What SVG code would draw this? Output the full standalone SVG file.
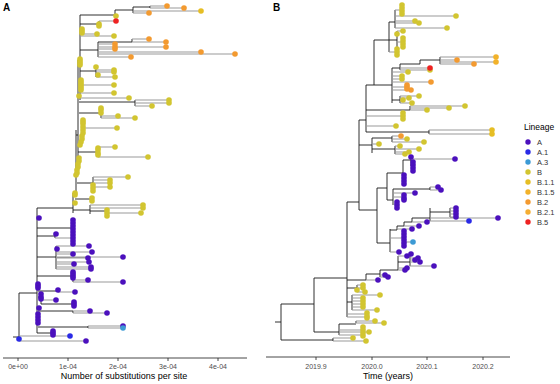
<svg xmlns="http://www.w3.org/2000/svg" width="560" height="384" viewBox="0 0 560 384">
<style>
.in{fill:none;stroke:#1a1a1a;stroke-width:0.9}
.tp{fill:none;stroke:#999;stroke-width:1.2}
.ax{fill:none;stroke:#333;stroke-width:0.9}
#tipsA circle,#tipsB circle{r:2.8px}
.lbl{font-family:"Liberation Sans",Arial,sans-serif;font-weight:bold;font-size:10px;fill:#000}
.tk{font-family:"Liberation Sans",Arial,sans-serif;font-size:7px;fill:#4d4d4d;text-anchor:middle}
.ttl{font-family:"Liberation Sans",Arial,sans-serif;font-size:9px;fill:#000;text-anchor:middle}
.lg{font-family:"Liberation Sans",Arial,sans-serif;font-size:7.5px;fill:#333}
.lgt{font-family:"Liberation Sans",Arial,sans-serif;font-size:8.5px;fill:#000}
.A{fill:#4B10BD}.A1{fill:#2A2AE6}.A3{fill:#3C9AD5}.B{fill:#D2C530}.B11{fill:#E6BE24}.B15{fill:#F2B22A}.B2{fill:#F39A30}.B21{fill:#F5AE33}.B5{fill:#EE2222}
</style>

<g id="panelA">
<text class="lbl" x="3" y="11">A</text>
<g id="connectorsA">
<path class="in" d="M13 337H19M19 293V341M19 293H37M37 208V333M37 208H73M73 193V213M73 195H76M76 130V195M76 135H78M78 60V175M78 95H80M80 15V100
M80 15H115M115 10V16M115 10H133M133 7V13M133 7H150M150 6V8
M80 24H99M99 21V26
M80 50H98M98 42V57M98 42H132M132 39V42
M80 71H96M96 67V77
M79 102H135M135 100V106
M79 113H101M101 108V118
M78 152H98M98 147V157
M77 183H93M93 177V191
M75 199H92M92 198V201
M73 210H90M90 205V214M90 211H107M107 211V213
M37 228H73M73 220V245
M37 236H55M55 234V238
M37 257H56M56 246V269
M37 276H73M73 272V282
M38 291H58M58 290V292
M38 297H41M41 294V304M41 304H74M74 302V306
M38 311H73M73 311V313
M38 327H88M88 326V328
M37 333H53"/>
<path class="tp" d="M150 6H167M150 8H184M133 13H149M133 11H201M115 16H116
M99 21H116M80 34H97M80 36H114
M132 39H149M132 42H166M98 44H115M98 47H166M98 49H115M98 52H201M98 54H235M98 57H131
M96 70H114M96 72H114M96 75H98M96 77H115
M80 85H114M80 93H114M79 98H129
M135 100H169M135 103H169M135 106H152
M101 116H118M101 118H135M83 128H117
M98 147H115M98 157H148
M93 177H128M93 180H110M93 183H110M93 187H110
M90 205H143M90 208H143M107 213H141
M55 238H72
M56 246H89M56 252H92M56 254H73M56 257H123M56 258H88M56 262H89M56 264H74M56 267H91M56 269H91
M73 280H88M73 282H123M58 292H75M41 300H56
M73 311H90M73 313H107
M88 326H123M88 328H123
M19 336H70M19 341H86"/>
</g>
<g id="tipsA">
<g class="B2"><circle cx="167" cy="6" r="3"/><circle cx="184" cy="8" r="3"/><circle cx="149" cy="13" r="3"/><circle cx="149" cy="39" r="3"/><circle cx="166" cy="42" r="3"/><circle cx="115" cy="44" r="3"/><circle cx="115" cy="47" r="3"/><circle cx="166" cy="47" r="3"/><circle cx="115" cy="49" r="3"/><circle cx="201" cy="52" r="3"/><circle cx="235" cy="54" r="3"/><circle cx="131" cy="57" r="3"/></g>
<g class="B11"><circle cx="201" cy="11" r="3"/></g>
<g class="B"><circle cx="116" cy="16" r="3"/><circle cx="99" cy="24" r="3"/><circle cx="99" cy="26" r="3"/><circle cx="82" cy="29" r="3"/><circle cx="82" cy="31" r="3"/><circle cx="82" cy="33" r="3"/><circle cx="97" cy="34" r="3"/><circle cx="114" cy="36" r="3"/><circle cx="80" cy="59" r="3"/><circle cx="80" cy="61" r="3"/><circle cx="80" cy="63" r="3"/><circle cx="80" cy="65" r="3"/><circle cx="96" cy="67" r="3"/><circle cx="114" cy="70" r="3"/><circle cx="114" cy="72" r="3"/><circle cx="98" cy="75" r="3"/><circle cx="115" cy="77" r="3"/><circle cx="81" cy="80" r="3"/><circle cx="81" cy="82" r="3"/><circle cx="81" cy="84" r="3"/><circle cx="81" cy="86" r="3"/><circle cx="81" cy="88" r="3"/><circle cx="81" cy="90" r="3"/><circle cx="114" cy="85" r="3"/><circle cx="114" cy="93" r="3"/><circle cx="79" cy="96" r="3"/><circle cx="129" cy="98" r="3"/><circle cx="169" cy="100" r="3"/><circle cx="169" cy="103" r="3"/><circle cx="152" cy="106" r="3"/><circle cx="101" cy="108" r="3"/><circle cx="101" cy="110" r="3"/><circle cx="101" cy="113" r="3"/><circle cx="118" cy="116" r="3"/><circle cx="135" cy="118" r="3"/><circle cx="83" cy="120" r="3"/><circle cx="83" cy="122" r="3"/><circle cx="83" cy="124" r="3"/><circle cx="83" cy="127" r="3"/><circle cx="117" cy="128" r="3"/><circle cx="83" cy="130" r="3"/><circle cx="83" cy="133" r="3"/><circle cx="82" cy="136" r="3"/><circle cx="82" cy="139" r="3"/><circle cx="81" cy="142" r="3"/><circle cx="80" cy="145" r="3"/><circle cx="115" cy="147" r="3"/><circle cx="98" cy="148" r="3"/><circle cx="98" cy="150" r="3"/><circle cx="98" cy="153" r="3"/><circle cx="98" cy="155" r="3"/><circle cx="148" cy="157" r="3"/><circle cx="79" cy="158" r="3"/><circle cx="79" cy="161" r="3"/><circle cx="78" cy="164" r="3"/><circle cx="78" cy="167" r="3"/><circle cx="77" cy="170" r="3"/><circle cx="77" cy="173" r="3"/><circle cx="76" cy="175" r="3"/><circle cx="128" cy="177" r="3"/><circle cx="110" cy="180" r="3"/><circle cx="110" cy="183" r="3"/><circle cx="93" cy="185" r="3"/><circle cx="93" cy="188" r="3"/><circle cx="93" cy="191" r="3"/><circle cx="110" cy="187" r="3"/><circle cx="75" cy="193" r="3"/><circle cx="75" cy="195" r="3"/><circle cx="92" cy="198" r="3"/><circle cx="92" cy="201" r="3"/><circle cx="75" cy="203" r="3"/><circle cx="143" cy="205" r="3"/><circle cx="143" cy="208" r="3"/><circle cx="107" cy="210" r="3"/><circle cx="107" cy="213" r="3"/><circle cx="107" cy="216" r="3"/><circle cx="141" cy="213" r="3"/></g>
<g class="B5"><circle cx="116" cy="21" r="3"/></g>
<g class="A"><circle cx="39" cy="218" r="3"/><circle cx="73" cy="220" r="3"/><circle cx="73" cy="223" r="3"/><circle cx="73" cy="226" r="3"/><circle cx="73" cy="229" r="3"/><circle cx="73" cy="232" r="3"/><circle cx="73" cy="235" r="3"/><circle cx="73" cy="238" r="3"/><circle cx="73" cy="241" r="3"/><circle cx="73" cy="244" r="3"/><circle cx="56" cy="234" r="3"/><circle cx="89" cy="246" r="3"/><circle cx="57" cy="249" r="3"/><circle cx="92" cy="252" r="3"/><circle cx="73" cy="254" r="3"/><circle cx="123" cy="257" r="3"/><circle cx="88" cy="258" r="3"/><circle cx="89" cy="262" r="3"/><circle cx="74" cy="264" r="3"/><circle cx="91" cy="267" r="3"/><circle cx="91" cy="269" r="3"/><circle cx="73" cy="272" r="3"/><circle cx="73" cy="274" r="3"/><circle cx="73" cy="276" r="3"/><circle cx="73" cy="278" r="3"/><circle cx="88" cy="280" r="3"/><circle cx="123" cy="282" r="3"/><circle cx="38" cy="284" r="3"/><circle cx="38" cy="286" r="3"/><circle cx="38" cy="288" r="3"/><circle cx="58" cy="290" r="3"/><circle cx="75" cy="292" r="3"/><circle cx="41" cy="294" r="3"/><circle cx="41" cy="297" r="3"/><circle cx="41" cy="299" r="3"/><circle cx="56" cy="300" r="3"/><circle cx="74" cy="302" r="3"/><circle cx="74" cy="304" r="3"/><circle cx="74" cy="306" r="3"/><circle cx="39" cy="308" r="3"/><circle cx="90" cy="311" r="3"/><circle cx="107" cy="313" r="3"/><circle cx="38" cy="314" r="3"/><circle cx="38" cy="317" r="3"/><circle cx="38" cy="320" r="3"/><circle cx="38" cy="323" r="3"/><circle cx="123" cy="326" r="3"/><circle cx="53" cy="331" r="3"/><circle cx="53" cy="333" r="3"/><circle cx="53" cy="335" r="3"/><circle cx="86" cy="341" r="3"/></g>
<g class="A1"><circle cx="70" cy="336" r="3"/><circle cx="19" cy="339" r="3"/></g>
<g class="A3"><circle cx="123" cy="328" r="3"/></g>
</g>
<g id="axisA">
<path class="ax" d="M3 358H247M18 358V361M68 358V361M118 358V361M168 358V361M218 358V361"/>
<text class="tk" x="18" y="369">0e+00</text><text class="tk" x="68" y="369">1e-04</text><text class="tk" x="118" y="369">2e-04</text><text class="tk" x="168" y="369">3e-04</text><text class="tk" x="218" y="369">4e-04</text>
<text class="ttl" x="124" y="379">Number of substitutions per site</text>
</g>
</g>

<g id="panelB">
<text class="lbl" x="273" y="11">B</text>
<g id="connectorsB">
<path class="in" d="M275 322H281M281 304V340M281 340H333M333 338V341M281 304H314M314 278V332M314 332H339M339 324V335M339 324H356M356 321V323
M314 278H347M347 202V317M347 288H357M357 285V292M347 302H352M352 295V310
M347 280H366M366 274V280M366 274H380M380 270V277M380 270H398M398 256V270M398 262H410M410 254V266
M347 202H359M359 120V210M359 210H377M377 188V243M377 188H387M387 173V200M387 173H403M403 160V184M403 160H411M411 157V166M387 200H393M393 189V205M393 189H430M430 187V190
M377 243H390M390 229V252M390 230H397M397 226V230M397 226H404M404 222V226M404 222H412M412 218V222M412 218H430M430 208V221M430 212H450M450 208V217
M359 145H372M372 138V153M372 138H392M392 136V142M372 149H395M395 146V154
M359 120H366M366 85V132M366 132H429M429 130V134M366 110H410M410 106V110
M366 85H374M374 40V85M374 40H389M389 22V52M389 22H395M395 10V28M389 40H397M397 31V47
M374 85H392M392 68V103M392 68H400M400 64V70M400 64H420M420 60V64M420 60H440M440 57V64M392 100H400M400 96V103"/>
<path class="tp" d="M395 10H402M395 16H456M395 21H415M395 23H419M395 28H447
M397 31H403M397 42H403M389 52H397
M440 57H496M440 60H457M440 62H496M440 64H474M400 68H430M400 70H430
M392 72H408M392 76H402M392 79H402M392 82H431M392 87H407M392 90H411
M400 96H419M400 98H409M400 100H403M400 103H412
M410 106H465M410 108H449M410 110H427M366 116H403M366 126H396
M429 130H492M429 134H492
M392 136H401M392 139H407M392 142H424M372 144H379M395 146H400M395 149H419M395 152H409M395 154H405
M411 159H455M411 166H413M403 178H404
M430 187H438M430 190H441M393 193H415M393 197H404M393 204H397
M450 208H456M450 211H456M450 214H456M450 217H456M430 218H498M430 221H469
M412 222H427M404 226H419M397 229H412M390 238H404M404 242H413M390 252H399
M398 256H407M410 258H418M410 260H415M410 262H420M410 266H434M398 268H407M398 270H405M380 275H385M380 277H388M366 280H378
M357 285H363M357 288H363M357 292H365M352 295H380M352 298H363M352 301H363M352 304H363M352 307H363M352 310H377M347 314H367M347 317H367
M356 321H375M356 323H384M339 330H363M339 335H363M339 332H369
M333 338H353M333 341H366"/>
</g>
<g id="tipsB">
<g class="B"><circle cx="402" cy="5" r="3"/><circle cx="402" cy="8" r="3"/><circle cx="402" cy="11" r="3"/><circle cx="402" cy="14" r="3"/><circle cx="456" cy="16" r="3"/><circle cx="415" cy="21" r="3"/><circle cx="419" cy="23" r="3"/><circle cx="447" cy="28" r="3"/><circle cx="403" cy="31" r="3"/><circle cx="397" cy="34" r="3"/><circle cx="403" cy="38" r="3"/><circle cx="403" cy="41" r="3"/><circle cx="403" cy="44" r="3"/><circle cx="403" cy="47" r="3"/><circle cx="397" cy="49" r="3"/><circle cx="397" cy="52" r="3"/><circle cx="397" cy="55" r="3"/><circle cx="430" cy="70" r="3"/><circle cx="408" cy="72" r="3"/><circle cx="402" cy="76" r="3"/><circle cx="402" cy="79" r="3"/><circle cx="419" cy="96" r="3"/><circle cx="409" cy="98" r="3"/><circle cx="403" cy="100" r="3"/><circle cx="412" cy="103" r="3"/><circle cx="465" cy="106" r="3"/><circle cx="449" cy="108" r="3"/><circle cx="427" cy="110" r="3"/><circle cx="403" cy="113" r="3"/><circle cx="403" cy="116" r="3"/><circle cx="403" cy="119" r="3"/><circle cx="396" cy="126" r="3"/><circle cx="407" cy="139" r="3"/><circle cx="424" cy="142" r="3"/><circle cx="379" cy="144" r="3"/><circle cx="400" cy="146" r="3"/><circle cx="419" cy="149" r="3"/><circle cx="409" cy="152" r="3"/><circle cx="405" cy="154" r="3"/><circle cx="363" cy="285" r="3"/><circle cx="363" cy="288" r="3"/><circle cx="357" cy="290" r="3"/><circle cx="365" cy="292" r="3"/><circle cx="380" cy="295" r="3"/><circle cx="363" cy="298" r="3"/><circle cx="363" cy="301" r="3"/><circle cx="363" cy="304" r="3"/><circle cx="363" cy="307" r="3"/><circle cx="377" cy="310" r="3"/><circle cx="367" cy="313" r="3"/><circle cx="367" cy="316" r="3"/><circle cx="367" cy="318" r="3"/><circle cx="375" cy="321" r="3"/><circle cx="384" cy="323" r="3"/><circle cx="363" cy="327" r="3"/><circle cx="363" cy="330" r="3"/><circle cx="363" cy="333" r="3"/><circle cx="363" cy="336" r="3"/><circle cx="369" cy="332" r="3"/><circle cx="353" cy="338" r="3"/><circle cx="366" cy="341" r="3"/></g>
<g class="B5"><circle cx="430" cy="68" r="3"/></g>
<g class="B2"><circle cx="457" cy="60" r="3"/><circle cx="474" cy="64" r="3"/><circle cx="431" cy="82" r="3"/><circle cx="407" cy="85" r="3"/><circle cx="407" cy="87" r="3"/><circle cx="407" cy="89" r="3"/><circle cx="411" cy="90" r="3"/><circle cx="401" cy="136" r="3"/></g>
<g class="B15"><circle cx="496" cy="57" r="3"/><circle cx="496" cy="62" r="3"/></g>
<g class="B11"><circle cx="492" cy="130" r="3"/><circle cx="492" cy="134" r="3"/></g>
<g class="A"><circle cx="411" cy="157" r="3"/><circle cx="455" cy="159" r="3"/><circle cx="413" cy="162" r="3"/><circle cx="413" cy="165" r="3"/><circle cx="413" cy="168" r="3"/><circle cx="413" cy="171" r="3"/><circle cx="404" cy="175" r="3"/><circle cx="404" cy="178" r="3"/><circle cx="404" cy="181" r="3"/><circle cx="404" cy="184" r="3"/><circle cx="438" cy="187" r="3"/><circle cx="441" cy="190" r="3"/><circle cx="415" cy="193" r="3"/><circle cx="404" cy="195" r="3"/><circle cx="404" cy="198" r="3"/><circle cx="404" cy="200" r="3"/><circle cx="397" cy="202" r="3"/><circle cx="397" cy="205" r="3"/><circle cx="397" cy="208" r="3"/><circle cx="456" cy="208" r="3"/><circle cx="456" cy="211" r="3"/><circle cx="456" cy="214" r="3"/><circle cx="456" cy="217" r="3"/><circle cx="498" cy="218" r="3"/><circle cx="427" cy="222" r="3"/><circle cx="419" cy="226" r="3"/><circle cx="412" cy="229" r="3"/><circle cx="404" cy="231" r="3"/><circle cx="404" cy="234" r="3"/><circle cx="404" cy="237" r="3"/><circle cx="404" cy="240" r="3"/><circle cx="404" cy="243" r="3"/><circle cx="404" cy="246" r="3"/><circle cx="399" cy="252" r="3"/><circle cx="411" cy="254" r="3"/><circle cx="407" cy="256" r="3"/><circle cx="418" cy="258" r="3"/><circle cx="415" cy="260" r="3"/><circle cx="420" cy="262" r="3"/><circle cx="434" cy="266" r="3"/><circle cx="407" cy="268" r="3"/><circle cx="405" cy="270" r="3"/><circle cx="385" cy="275" r="3"/><circle cx="388" cy="277" r="3"/><circle cx="378" cy="280" r="3"/></g>
<g class="A1"><circle cx="469" cy="221" r="3"/></g>
<g class="A3"><circle cx="413" cy="242" r="3"/></g>
</g>
<g id="axisB">
<path class="ax" d="M266 357H510M316 357V360M372 357V360M427 357V360M483 357V360"/>
<text class="tk" x="316" y="369">2019.9</text><text class="tk" x="372" y="369">2020.0</text><text class="tk" x="427" y="369">2020.1</text><text class="tk" x="483" y="369">2020.2</text>
<text class="ttl" x="388" y="379">Time (years)</text>
</g>
</g>

<g id="legend">
<text class="lgt" x="524" y="130">Lineage</text>
<g class="A"><circle cx="528" cy="142" r="2.7"/></g><text class="lg" x="537" y="144.7">A</text>
<g class="A1"><circle cx="528" cy="152" r="2.7"/></g><text class="lg" x="537" y="154.7">A.1</text>
<g class="A3"><circle cx="528" cy="162" r="2.7"/></g><text class="lg" x="537" y="164.7">A.3</text>
<g class="B"><circle cx="528" cy="172" r="2.7"/></g><text class="lg" x="537" y="174.7">B</text>
<g class="B11"><circle cx="528" cy="182" r="2.7"/></g><text class="lg" x="537" y="184.7">B.1.1</text>
<g class="B15"><circle cx="528" cy="192" r="2.7"/></g><text class="lg" x="537" y="194.7">B.1.5</text>
<g class="B2"><circle cx="528" cy="202" r="2.7"/></g><text class="lg" x="537" y="204.7">B.2</text>
<g class="B21"><circle cx="528" cy="212" r="2.7"/></g><text class="lg" x="537" y="214.7">B.2.1</text>
<g class="B5"><circle cx="528" cy="222" r="2.7"/></g><text class="lg" x="537" y="224.7">B.5</text>
</g>
</svg>
